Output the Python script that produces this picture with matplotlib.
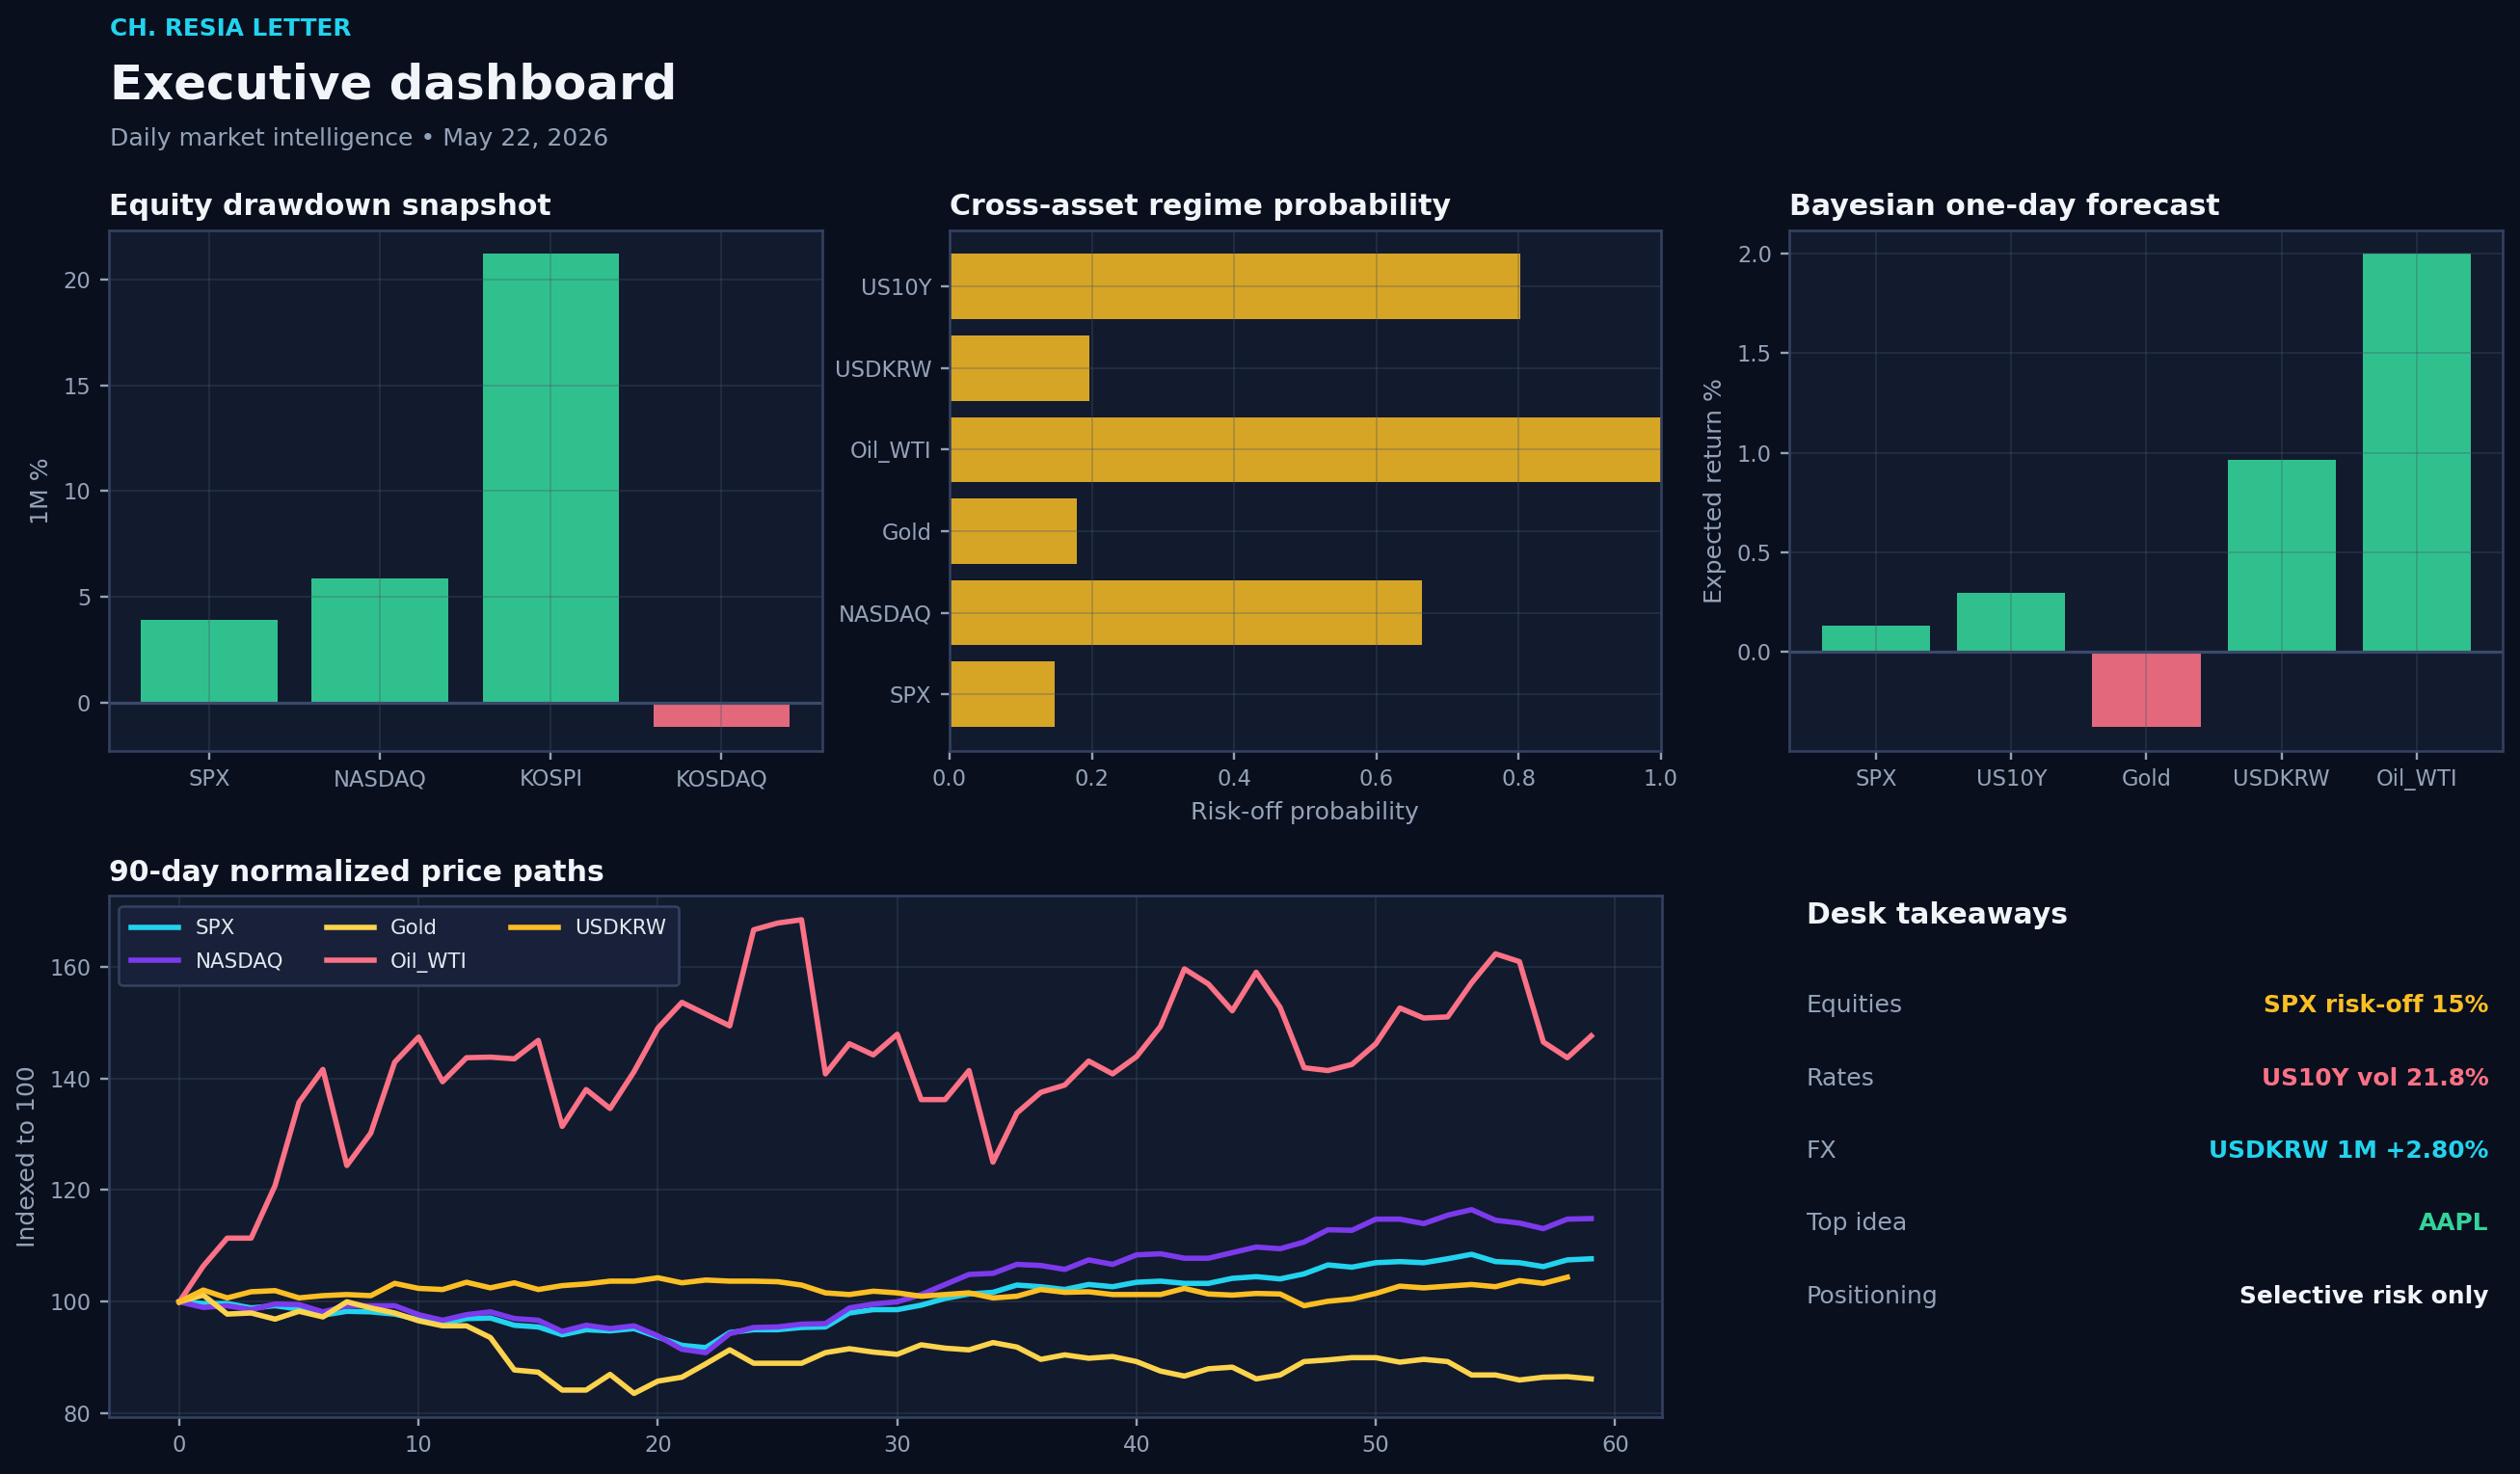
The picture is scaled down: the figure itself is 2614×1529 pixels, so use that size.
import numpy as np
import matplotlib
matplotlib.use("Agg")
import matplotlib.pyplot as plt

# ---------------- data ----------------
eq_names = ["SPX", "NASDAQ", "KOSPI", "KOSDAQ"]
eq_1m = [3.92, 5.86, 21.2, -1.13]

regime_names = ["SPX", "NASDAQ", "Gold", "Oil_WTI", "USDKRW", "US10Y"]
regime_prob = [0.148, 0.664, 0.179, 1.0, 0.197, 0.802]

fc_names = ["SPX", "US10Y", "Gold", "USDKRW", "Oil_WTI"]
fc_ret = [0.130, 0.295, -0.379, 0.964, 2.0]

spx = [100, 99.7, 99.7, 98.9, 99.3, 98.7, 97.6, 98.3, 98.2, 97.8,
       96.8, 96.0, 97.0, 97.1, 95.8, 95.5, 94.1, 95.0, 94.8, 95.2,
       93.7, 92.2, 91.8, 94.5, 95.0, 95.0, 95.4, 95.5, 98.0, 98.6,
       98.6, 99.4, 100.6, 101.4, 101.7, 103.0, 102.7, 102.2, 103.1, 102.7,
       103.5, 103.7, 103.3, 103.3, 104.2, 104.5, 104.1, 105.0, 106.6, 106.2,
       107.0, 107.2, 107.0, 107.7, 108.5, 107.2, 107.0, 106.3, 107.5, 107.7]
nasdaq = [100, 99.0, 99.3, 98.6, 99.6, 99.5, 98.2, 99.3, 99.3, 99.3,
          97.7, 96.7, 97.7, 98.2, 97.0, 96.7, 94.7, 95.8, 95.2, 95.7,
          93.9, 91.5, 90.9, 94.3, 95.4, 95.5, 96.0, 96.1, 98.9, 99.6,
          100.0, 101.3, 103.1, 104.9, 105.1, 106.7, 106.5, 105.8, 107.5, 106.7,
          108.4, 108.6, 107.8, 107.8, 108.8, 109.8, 109.5, 110.7, 112.9, 112.8,
          114.8, 114.8, 114.0, 115.5, 116.5, 114.6, 114.1, 113.1, 114.8, 114.9]
gold = [100, 101.2, 97.8, 98.0, 96.9, 98.3, 97.3, 100.0, 98.9, 98.0,
        96.6, 95.7, 95.7, 93.6, 87.8, 87.4, 84.2, 84.2, 87.0, 83.6,
        85.8, 86.5, 88.9, 91.4, 89.0, 89.0, 89.0, 90.9, 91.6, 91.0,
        90.6, 92.3, 91.7, 91.4, 92.7, 91.9, 89.7, 90.5, 89.9, 90.2,
        89.3, 87.6, 86.7, 88.0, 88.3, 86.2, 86.9, 89.3, 89.6, 90.0,
        90.0, 89.2, 89.7, 89.3, 86.9, 86.9, 86.0, 86.5, 86.6, 86.2]
oil_wti = [100, 106.4, 111.4, 111.4, 120.8, 135.7, 141.6, 124.4, 130.2, 142.9,
           147.4, 139.4, 143.7, 143.8, 143.5, 146.8, 131.4, 138.0, 134.6, 141.2,
           149.0, 153.6, 151.5, 149.4, 166.6, 167.8, 168.4, 140.8, 146.2, 144.2,
           147.9, 136.2, 136.2, 141.4, 125.0, 133.8, 137.5, 138.8, 143.1, 140.8,
           143.9, 149.3, 159.6, 156.9, 152.1, 159.0, 152.7, 141.9, 141.4, 142.5,
           146.2, 152.6, 150.8, 151.0, 157.1, 162.3, 160.9, 146.5, 143.7, 147.6]
usdkrw = [100, 102.1, 100.7, 101.8, 102.0, 100.7, 101.1, 101.3, 101.1, 103.3,
          102.4, 102.2, 103.5, 102.5, 103.4, 102.2, 102.9, 103.2, 103.7, 103.7,
          104.3, 103.4, 103.9, 103.7, 103.7, 103.6, 103.0, 101.6, 101.3, 101.9,
          101.6, 101.0, 101.3, 101.6, 100.7, 101.0, 102.2, 101.7, 101.8, 101.3,
          101.3, 101.3, 102.4, 101.4, 101.2, 101.5, 101.4, 99.3, 100.1, 100.5,
          101.5, 102.8, 102.5, 102.8, 103.1, 102.7, 103.8, 103.3, 104.4]

takeaway_labels = ["Equities", "Rates", "FX", "Top idea", "Positioning"]
takeaway_values = ["SPX risk-off 15%", "US10Y vol 21.8%", "USDKRW 1M +2.80%",
                   "AAPL", "Selective risk only"]

# ---------------- style ----------------
FIG_BG = "#0a0f1e"
AX_BG = "#121a2e"
SPINE = "#33405f"
GRID = "#475569"
TXT = "#f1f5f9"
MUTED = "#94a3b8"
GREEN = "#34d399"
RED = "#fb7185"
AMBER = "#fbbf24"
CYAN = "#22d3ee"
PURPLE = "#7c3aed"
GOLDC = "#fcd34d"

TICK_FS = 8.6
LABEL_FS = 9.5
TITLE_FS = 11.4

DPI = 190
fig = plt.figure(figsize=(2614 / DPI, 1529 / DPI), dpi=DPI, facecolor=FIG_BG)


def style_ax(ax):
    ax.set_facecolor(AX_BG)
    for s in ax.spines.values():
        s.set_color(SPINE)
        s.set_linewidth(1.0)
    ax.tick_params(colors=MUTED, labelsize=TICK_FS, length=3.5, width=0.9)
    ax.grid(True, color=GRID, linewidth=0.75, alpha=0.3)


def ax_title(ax, t):
    ax.set_title(t, loc="left", color=TXT, fontsize=TITLE_FS, fontweight="bold")


# header
fig.text(0.0435, 0.9756, "CH. RESIA LETTER", color=CYAN, fontsize=9.4,
         fontweight="bold", va="baseline", ha="left")
fig.text(0.0435, 0.9331, "Executive dashboard", color=TXT, fontsize=18.9,
         fontweight="bold", va="baseline", ha="left")
fig.text(0.0435, 0.9014, "Daily market intelligence \u2022 May 22, 2026", color=MUTED,
         fontsize=9.5, va="baseline", ha="left")

# top-left: equity bars
ax1 = fig.add_axes([0.04315, 0.4908, 0.2831, 0.353])
style_ax(ax1)
ax1.bar(eq_names, eq_1m, color=[GREEN if v >= 0 else RED for v in eq_1m], alpha=0.9, width=0.8)
ax1.axhline(0, color="#3b4a6b", linewidth=1.2, zorder=2)
ax1.set_ylabel("1M %", color=MUTED, fontsize=LABEL_FS)
ax_title(ax1, "Equity drawdown snapshot")

# top-middle: regime probability
ax2 = fig.add_axes([0.3768, 0.4908, 0.2823, 0.353])
style_ax(ax2)
ax2.barh(regime_names, regime_prob, color=AMBER, alpha=0.85, height=0.8)
ax2.set_xlim(0, 1)
ax2.set_xlabel("Risk-off probability", color=MUTED, fontsize=LABEL_FS)
ax_title(ax2, "Cross-asset regime probability")

# top-right: forecast
ax3 = fig.add_axes([0.7102, 0.4908, 0.2831, 0.353])
style_ax(ax3)
ax3.bar(fc_names, fc_ret, color=[GREEN if v >= 0 else RED for v in fc_ret], alpha=0.9, width=0.8)
ax3.axhline(0, color="#3b4a6b", linewidth=1.2, zorder=2)
ax3.set_ylabel("Expected return %", color=MUTED, fontsize=LABEL_FS)
ax_title(ax3, "Bayesian one-day forecast")

# bottom: lines
ax4 = fig.add_axes([0.04315, 0.0386, 0.6163, 0.3535])
style_ax(ax4)
series = [("SPX", spx, CYAN), ("NASDAQ", nasdaq, PURPLE), ("Gold", gold, GOLDC),
          ("Oil_WTI", oil_wti, RED), ("USDKRW", usdkrw, AMBER)]
for name, vals, col in series:
    ax4.plot(np.arange(len(vals)), vals, color=col, linewidth=2.1, label=name, zorder=3)
ax4.set_ylabel("Indexed to 100", color=MUTED, fontsize=LABEL_FS)
ax_title(ax4, "90-day normalized price paths")
leg = ax4.legend(loc="upper left", ncol=3, fontsize=8.1, frameon=True,
                 facecolor="#182139", edgecolor="#33405f", framealpha=1.0,
                 labelcolor="#e2e8f0", handlelength=2.3, handletextpad=0.8,
                 columnspacing=2.1, labelspacing=0.7, borderpad=0.6)

# takeaways panel
fig.text(0.7168, 0.3733, "Desk takeaways", color=TXT, fontsize=11.35,
         fontweight="bold", va="baseline", ha="left")
row_y = [0.3133, 0.2638, 0.2145, 0.1657, 0.1158]
val_colors = [AMBER, RED, CYAN, GREEN, TXT]
for lab, val, y, c in zip(takeaway_labels, takeaway_values, row_y, val_colors):
    fig.text(0.7168, y, lab, color=MUTED, fontsize=9.5, va="baseline", ha="left")
    fig.text(0.9875, y, val, color=c, fontsize=9.45, fontweight="bold",
             va="baseline", ha="right")

fig.savefig("out.png", dpi=DPI, facecolor=FIG_BG)
